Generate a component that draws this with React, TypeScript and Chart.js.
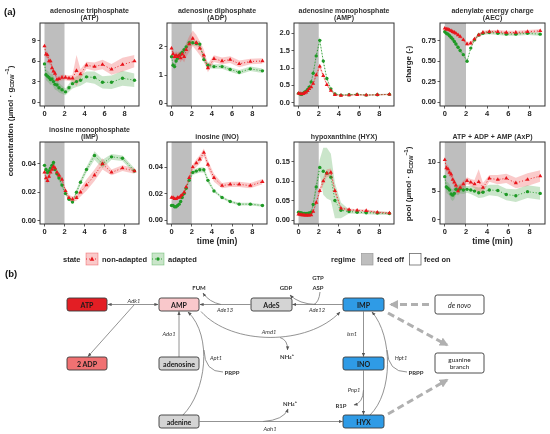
import React, { useEffect, useRef } from "react";
import { Chart, registerables } from "chart.js";

Chart.register(...registerables);

// ---------------- data ----------------
const TIME = [0, 0.15, 0.3, 0.45, 0.6, 0.75, 0.9, 1.05, 1.25, 1.45, 1.75, 2.1, 2.45, 2.8, 3.2, 3.6, 4.2, 5.0, 5.8, 6.7, 7.8, 9.0];
const X_TICKS = ["0", "2", "4", "6", "8"];
const FEED_OFF = [0, 2];

const ATP_NA = [8.2, 7.0, 6.9, 6.0, 6.0, 5.0, 4.5, 4.2, 3.3, 3.4, 3.6, 3.6, 3.5, 3.5, 4.6, 4.1, 5.4, 5.2, 5.5, 4.8, 5.5, 6.0];
const ATP_NA_SD = [0.5, 0.5, 0.5, 0.5, 0.5, 0.5, 0.4, 0.4, 0.4, 0.4, 0.4, 0.4, 0.4, 0.5, 2.3, 0.7, 0.5, 0.6, 0.7, 0.8, 1.0, 0.9];
const ATP_AD = [5.6, 4.0, 3.8, 3.6, 3.3, 3.4, 3.0, 2.6, 2.5, 2.1, 1.8, 1.5, 2.1, 2.7, 3.0, 3.2, 3.7, 3.6, 2.9, 2.9, 3.5, 3.2];
const ATP_AD_SD = [0.7, 0.8, 0.8, 0.8, 0.8, 0.8, 0.8, 0.8, 0.8, 0.7, 0.6, 0.5, 0.6, 0.7, 0.8, 0.8, 0.8, 0.9, 0.9, 1.0, 1.1, 1.0];
const ATP_TICKS = ["0", "3", "6", "9"];

const ADP_NA = [1.95, 1.75, 1.65, 1.7, 1.65, 1.7, 1.6, 1.75, 1.65, 1.9, 2.1, 2.3, 2.15, 1.95, 1.7, 1.25, 1.58, 1.5, 1.55, 1.4, 1.48, 1.5];
const ADP_NA_SD = [0.1, 0.15, 0.15, 0.15, 0.15, 0.15, 0.15, 0.2, 0.2, 0.25, 0.28, 0.28, 0.28, 0.25, 0.2, 0.15, 0.12, 0.12, 0.12, 0.12, 0.1, 0.1];
const ADP_AD = [1.65, 1.35, 1.3, 1.5, 1.6, 1.7, 1.75, 1.8, 1.9, 2.0, 2.15, 2.15, 2.12, 2.1, 1.55, 1.35, 1.3, 1.3, 1.2, 1.1, 1.22, 1.15];
const ADP_AD_SD = [0.08, 0.1, 0.1, 0.1, 0.1, 0.1, 0.1, 0.1, 0.1, 0.1, 0.1, 0.1, 0.1, 0.1, 0.1, 0.1, 0.08, 0.08, 0.08, 0.08, 0.08, 0.08];
const ADP_TICKS = ["0", "1", "2"];

const AMP_NA = [0.27, 0.26, 0.25, 0.26, 0.28, 0.3, 0.34, 0.4, 0.45, 0.55, 0.8, 1.05, 0.78, 0.52, 0.35, 0.23, 0.21, 0.22, 0.23, 0.22, 0.23, 0.24];
const AMP_NA_SD = [0.02, 0.02, 0.02, 0.02, 0.02, 0.02, 0.03, 0.03, 0.04, 0.05, 0.06, 0.08, 0.06, 0.04, 0.03, 0.02, 0.02, 0.02, 0.02, 0.02, 0.02, 0.02];
const AMP_AD = [0.27, 0.25, 0.24, 0.27, 0.3, 0.33, 0.38, 0.45, 0.6, 0.85, 1.35, 1.8, 1.2, 0.7, 0.4, 0.25, 0.22, 0.23, 0.24, 0.22, 0.23, 0.24];
const AMP_AD_SD = [0.02, 0.02, 0.02, 0.02, 0.02, 0.03, 0.03, 0.04, 0.05, 0.07, 0.09, 0.1, 0.08, 0.05, 0.03, 0.02, 0.02, 0.02, 0.02, 0.02, 0.02, 0.02];
const AMP_TICKS = ["0.0", "0.5", "1.0", "1.5", "2.0"];

const AEC_NA = [0.9, 0.89, 0.89, 0.88, 0.87, 0.86, 0.85, 0.84, 0.82, 0.8, 0.76, 0.71, 0.72, 0.77, 0.82, 0.85, 0.86, 0.86, 0.85, 0.85, 0.86, 0.87];
const AEC_NA_SD = [0.02, 0.02, 0.02, 0.02, 0.02, 0.02, 0.02, 0.02, 0.02, 0.025, 0.025, 0.025, 0.025, 0.02, 0.02, 0.02, 0.02, 0.02, 0.02, 0.02, 0.02, 0.02];
const AEC_AD = [0.86, 0.84, 0.83, 0.81, 0.79, 0.77, 0.74, 0.71, 0.67, 0.63, 0.58, 0.5, 0.66, 0.76, 0.82, 0.84, 0.85, 0.84, 0.83, 0.83, 0.84, 0.83];
const AEC_AD_SD = [0.03, 0.03, 0.03, 0.03, 0.03, 0.03, 0.03, 0.03, 0.03, 0.03, 0.02, 0.02, 0.02, 0.02, 0.02, 0.02, 0.02, 0.02, 0.02, 0.02, 0.02, 0.02];
const AEC_TICKS = ["0.00", "0.25", "0.50", "0.75"];

const IMP_NA = [0.034, 0.03, 0.028, 0.031, 0.034, 0.036, 0.038, 0.037, 0.034, 0.032, 0.029, 0.021, 0.016, 0.015, 0.016, 0.02, 0.025, 0.032, 0.04, 0.034, 0.037, 0.035];
const IMP_NA_SD = [0.002, 0.002, 0.002, 0.002, 0.002, 0.002, 0.002, 0.002, 0.002, 0.002, 0.002, 0.002, 0.002, 0.002, 0.002, 0.003, 0.004, 0.004, 0.004, 0.002, 0.002, 0.002];
const IMP_AD = [0.039, 0.036, 0.034, 0.035, 0.037, 0.039, 0.041, 0.036, 0.033, 0.03, 0.025, 0.019, 0.015, 0.013, 0.02, 0.027, 0.036, 0.046, 0.04, 0.045, 0.044, 0.035];
const IMP_AD_SD = [0.002, 0.002, 0.002, 0.002, 0.002, 0.002, 0.002, 0.002, 0.002, 0.002, 0.002, 0.001, 0.001, 0.001, 0.002, 0.002, 0.002, 0.003, 0.003, 0.002, 0.002, 0.002];
const IMP_TICKS = ["0.00", "0.02", "0.04"];

const INO_NA = [0.017, 0.017, 0.016, 0.016, 0.017, 0.017, 0.018, 0.019, 0.021, 0.025, 0.032, 0.04, 0.043, 0.046, 0.051, 0.042, 0.032, 0.026, 0.027, 0.027, 0.026, 0.029];
const INO_NA_SD = [0.001, 0.001, 0.001, 0.001, 0.001, 0.001, 0.001, 0.001, 0.001, 0.001, 0.002, 0.002, 0.003, 0.003, 0.003, 0.003, 0.003, 0.002, 0.002, 0.002, 0.002, 0.002];
const INO_AD = [0.011, 0.011, 0.01, 0.01, 0.011, 0.012, 0.014, 0.017, 0.02, 0.024, 0.03, 0.036, 0.037, 0.038, 0.038, 0.03, 0.022, 0.017, 0.014, 0.012, 0.012, 0.011];
const INO_AD_SD = [0.001, 0.001, 0.001, 0.001, 0.001, 0.001, 0.001, 0.001, 0.001, 0.001, 0.001, 0.002, 0.002, 0.002, 0.002, 0.002, 0.001, 0.001, 0.001, 0.001, 0.001, 0.001];
const INO_TICKS = ["0.00", "0.02", "0.04"];

const HYX_NA = [0.015, 0.014, 0.013, 0.013, 0.012, 0.012, 0.012, 0.012, 0.013, 0.022, 0.045, 0.075, 0.1, 0.12, 0.122, 0.075, 0.03, 0.027, 0.025, 0.024, 0.02, 0.018];
const HYX_NA_SD = [0.003, 0.003, 0.003, 0.003, 0.003, 0.003, 0.003, 0.003, 0.003, 0.004, 0.006, 0.008, 0.01, 0.01, 0.01, 0.008, 0.004, 0.003, 0.003, 0.003, 0.003, 0.003];
const HYX_AD = [0.02, 0.019, 0.018, 0.017, 0.017, 0.017, 0.017, 0.018, 0.02, 0.04, 0.085, 0.135, 0.125, 0.12, 0.11, 0.05, 0.025, 0.022, 0.02, 0.019, 0.018, 0.017];
const HYX_AD_SD = [0.004, 0.004, 0.004, 0.004, 0.004, 0.004, 0.004, 0.004, 0.005, 0.008, 0.015, 0.02, 0.06, 0.065, 0.06, 0.045, 0.02, 0.005, 0.004, 0.004, 0.004, 0.004];
const HYX_TICKS = ["0.00", "0.05", "0.10", "0.15"];

const AXP_NA = [10.4, 9.0, 8.8, 8.2, 7.9, 7.0, 6.5, 6.0, 5.0, 5.6, 6.2, 6.8, 6.5, 6.2, 6.6, 5.6, 7.2, 7.0, 7.2, 6.4, 7.0, 7.6];
const AXP_NA_SD = [0.8, 0.7, 0.7, 0.7, 0.7, 0.7, 0.7, 0.6, 0.6, 0.6, 0.6, 0.6, 0.6, 0.7, 2.2, 0.8, 0.6, 0.8, 0.8, 0.9, 1.1, 1.0];
const AXP_AD = [7.5, 5.7, 5.5, 5.2, 4.5, 4.3, 4.6, 5.3, 5.2, 5.4, 5.2, 5.3, 5.2, 5.0, 4.7, 4.8, 5.2, 5.1, 4.4, 4.2, 4.9, 4.6];
const AXP_AD_SD = [1.0, 1.0, 1.0, 1.0, 1.0, 1.0, 1.0, 0.9, 0.9, 0.8, 0.7, 0.6, 0.7, 0.8, 0.9, 0.9, 0.9, 1.0, 1.0, 1.1, 1.1, 1.1];
const AXP_TICKS = ["0", "5", "10"];

// ---------------- styles / layout ----------------
const FONT = "'Liberation Sans', Arial, sans-serif";
const DFONT = "Lato, 'Open Sans', sans-serif";
const RED = "#E8151B";
const GREEN = "#1F9A26";
const RED_FILL = "rgba(240, 80, 80, 0.3)";
const GREEN_FILL = "rgba(80, 170, 80, 0.3)";
const FEED_GRAY = "#BEBEBE";
const INK = "#262626";

const X_MIN = -0.45;
const X_MAX = 9.45;
const COL_LEFT = [40, 167, 294, 440];
const COL_W = [99, 100, 100, 105];
const ROW_TOP = [23, 142];
const ROW_H = [83, 82];
const YW = 26;
const TH = 16;
const XH = 12;
const XH_T = 23;

const PANELS = [
  { id: "atp", title: ["adenosine triphosphate", "(ATP)"], na: ATP_NA, naSd: ATP_NA_SD, ad: ATP_AD, adSd: ATP_AD_SD, ticks: ATP_TICKS, yMin: -0.58, yMax: 11.6, col: 0, row: 0, xTitle: false },
  { id: "adp", title: ["adenosine diphosphate", "(ADP)"], na: ADP_NA, naSd: ADP_NA_SD, ad: ADP_AD, adSd: ADP_AD_SD, ticks: ADP_TICKS, yMin: -0.1, yMax: 2.85, col: 1, row: 0, xTitle: false },
  { id: "amp", title: ["adenosine monophosphate", "(AMP)"], na: AMP_NA, naSd: AMP_NA_SD, ad: AMP_AD, adSd: AMP_AD_SD, ticks: AMP_TICKS, yMin: -0.095, yMax: 2.3, col: 2, row: 0, xTitle: false },
  { id: "aec", title: ["adenylate energy charge", "(AEC)"], na: AEC_NA, naSd: AEC_NA_SD, ad: AEC_AD, adSd: AEC_AD_SD, ticks: AEC_TICKS, yMin: -0.046, yMax: 0.966, col: 3, row: 0, xTitle: false },
  { id: "imp", title: ["inosine monophosphate", "(IMP)"], na: IMP_NA, naSd: IMP_NA_SD, ad: IMP_AD, adSd: IMP_AD_SD, ticks: IMP_TICKS, yMin: -0.0025, yMax: 0.0555, col: 0, row: 1, xTitle: false },
  { id: "ino", title: ["", "inosine (INO)"], na: INO_NA, naSd: INO_NA_SD, ad: INO_AD, adSd: INO_AD_SD, ticks: INO_TICKS, yMin: -0.003, yMax: 0.059, col: 1, row: 1, xTitle: true },
  { id: "hyx", title: ["", "hypoxanthine (HYX)"], na: HYX_NA, naSd: HYX_NA_SD, ad: HYX_AD, adSd: HYX_AD_SD, ticks: HYX_TICKS, yMin: -0.01, yMax: 0.2, col: 2, row: 1, xTitle: false },
  { id: "axp", title: ["", "ATP + ADP + AMP (AxP)"], na: AXP_NA, naSd: AXP_NA_SD, ad: AXP_AD, adSd: AXP_AD_SD, ticks: AXP_TICKS, yMin: -0.7, yMax: 13.5, col: 3, row: 1, xTitle: true },
];

const feedOffPlugin = {
  id: "feedOff",
  beforeDatasetsDraw(chart: any) {
    const { ctx, chartArea, scales } = chart;
    const x0 = scales.x.getPixelForValue(FEED_OFF[0]);
    const x1 = scales.x.getPixelForValue(FEED_OFF[1]);
    ctx.save();
    ctx.fillStyle = FEED_GRAY;
    ctx.fillRect(x0, chartArea.top, x1 - x0, chartArea.bottom - chartArea.top);
    ctx.restore();
  },
};

const framePlugin = {
  id: "frame",
  afterDatasetsDraw(chart: any) {
    const { ctx, chartArea } = chart;
    ctx.save();
    ctx.strokeStyle = "#333";
    ctx.lineWidth = 1;
    ctx.strokeRect(chartArea.left, chartArea.top, chartArea.right - chartArea.left, chartArea.bottom - chartArea.top);
    ctx.restore();
  },
};

function pts(vals: number[]) {
  return TIME.map((t, i) => ({ x: t, y: vals[i] }));
}
function bound(vals: number[], sd: number[], sign: number) {
  return TIME.map((t, i) => ({ x: t, y: vals[i] + sign * sd[i] }));
}

function Panel({ p }: { p: any }) {
  const ref = useRef<HTMLCanvasElement | null>(null);
  const xh = p.xTitle ? XH_T : XH;
  const left = COL_LEFT[p.col] - YW;
  const top = ROW_TOP[p.row] - TH;
  const width = YW * 2 + COL_W[p.col];
  const height = TH + ROW_H[p.row] + xh;

  useEffect(() => {
    if (!ref.current) return;
    const tickFont = { family: FONT, size: 7.5, weight: "bold" as const };
    const yVals = p.ticks.map((s: string) => parseFloat(s));
    const xVals = X_TICKS.map((s) => parseFloat(s));
    const grid = { display: true, drawOnChartArea: false, drawTicks: true, tickLength: 2.5, tickColor: "#333", tickWidth: 0.8 };
    const chart = new Chart(ref.current, {
      type: "line",
      data: {
        datasets: [
          { data: pts(p.na), borderColor: RED, borderWidth: 0.9, borderDash: [1, 2], pointStyle: "triangle", pointRadius: 2.4, pointBackgroundColor: RED, pointBorderColor: RED, pointBorderWidth: 0, fill: false, tension: 0, order: 1, yAxisID: "y" },
          { data: pts(p.ad), borderColor: GREEN, borderWidth: 0.9, borderDash: [1, 2], pointStyle: "circle", pointRadius: 1.7, pointBackgroundColor: GREEN, pointBorderColor: GREEN, pointBorderWidth: 0, fill: false, tension: 0, order: 2, yAxisID: "y" },
          { data: bound(p.na, p.naSd, 1), borderWidth: 0, pointRadius: 0, fill: "+1", backgroundColor: RED_FILL, order: 3, yAxisID: "y" },
          { data: bound(p.na, p.naSd, -1), borderWidth: 0, pointRadius: 0, fill: false, order: 3, yAxisID: "y" },
          { data: bound(p.ad, p.adSd, 1), borderWidth: 0, pointRadius: 0, fill: "+1", backgroundColor: GREEN_FILL, order: 4, yAxisID: "y" },
          { data: bound(p.ad, p.adSd, -1), borderWidth: 0, pointRadius: 0, fill: false, order: 4, yAxisID: "y" },
        ] as any,
      },
      options: {
        animation: false,
        responsive: false,
        events: [],
        layout: { padding: 0 },
        plugins: {
          legend: { display: false },
          tooltip: { enabled: false },
          title: {
            display: true,
            text: p.title,
            color: "#333",
            font: { family: FONT, size: 7, weight: "bold", lineHeight: 1.05 },
            padding: { top: 0, bottom: 1.3 },
          },
        },
        scales: {
          x: {
            type: "linear",
            min: X_MIN,
            max: X_MAX,
            afterBuildTicks: (s: any) => {
              s.ticks = xVals.map((v) => ({ value: v }));
            },
            afterFit: (s: any) => {
              s.height = xh;
            },
            ticks: { callback: (_v: any, i: number) => X_TICKS[i], font: tickFont, color: INK, padding: 1, maxRotation: 0, autoSkip: false },
            grid,
            border: { display: false },
            title: p.xTitle
              ? { display: true, text: "time (min)", color: INK, font: { family: FONT, size: 8.5, weight: "bold" }, padding: { top: 0, bottom: 0 } }
              : { display: false },
          },
          y: {
            type: "linear",
            position: "left",
            min: p.yMin,
            max: p.yMax,
            afterBuildTicks: (s: any) => {
              s.ticks = yVals.map((v: number) => ({ value: v }));
            },
            afterFit: (s: any) => {
              s.width = YW;
            },
            ticks: { callback: (_v: any, i: number) => p.ticks[i], font: tickFont, color: INK, padding: 1.5, autoSkip: false },
            grid,
            border: { display: false },
          },
          yR: {
            type: "linear",
            position: "right",
            display: true,
            ticks: { display: false },
            grid: { display: false },
            border: { display: false },
            afterFit: (s: any) => {
              s.width = YW;
            },
          },
        },
      } as any,
      plugins: [feedOffPlugin, framePlugin],
    });
    return () => chart.destroy();
  }, []);

  return (
    <div style={{ position: "absolute", left, top, width, height }}>
      <canvas ref={ref} width={width} height={height} />
    </div>
  );
}

// ---------------- pathway diagram (b) ----------------
const GRAY_BOX = "#D4D4D4";
const BLUE_BOX = "#2F9BE6";
const NODES = [
  { text: ["ATP"], x: 67, y: 298, w: 40, h: 13, fill: "#E31E24" },
  { text: ["AMP"], x: 159, y: 298, w: 40, h: 13, fill: "#F9C8CB" },
  { text: ["AdeS"], x: 251, y: 298, w: 41, h: 13, fill: GRAY_BOX },
  { text: ["IMP"], x: 343, y: 298, w: 41, h: 13, fill: BLUE_BOX },
  { text: ["2 ADP"], x: 67, y: 357, w: 40, h: 13, fill: "#F07172" },
  { text: ["adenosine"], x: 159, y: 357, w: 40, h: 13, fill: GRAY_BOX },
  { text: ["INO"], x: 343, y: 357, w: 41, h: 13, fill: BLUE_BOX },
  { text: ["adenine"], x: 159, y: 415, w: 40, h: 13, fill: GRAY_BOX },
  { text: ["HYX"], x: 343, y: 415, w: 41, h: 13, fill: BLUE_BOX },
  { text: ["de novo"], x: 435, y: 295, w: 49, h: 19, fill: "#FFFFFF", italic: true },
  { text: ["guanine", "branch"], x: 435, y: 353, w: 49, h: 20, fill: "#FFFFFF", light: true },
];

const EDGES = [
  { d: "M108,304.5 L158,304.5", start: true, end: true },
  { d: "M134,305 L88,356.5", end: true },
  { d: "M250.5,304.5 L200,304.5", end: true },
  { d: "M221,304.5 Q209,302 203,293", end: true },
  { d: "M179,357 L179,311.5", end: true },
  { d: "M183,415 C206,392 213,336 188,312", end: true },
  { d: "M223,372 Q204.5,372 204,350" },
  { d: "M199.5,421.5 L342.5,421.5", end: true },
  { d: "M263,421.5 Q284,420 288,409", end: true },
  { d: "M201,311.5 C232,346 308,346 340,312", end: true },
  { d: "M280,337.5 Q288,340 287.5,350", end: true },
  { d: "M342.5,304.5 L292.5,304.5", end: true },
  { d: "M320,292 Q319,302 314,304.5" },
  { d: "M316,304.5 Q299,304 290,295", end: true },
  { d: "M363.5,311.5 L363.5,356.5", end: true },
  { d: "M363.5,370.5 L363.5,414.5", end: true },
  { d: "M363.5,390 Q363,403 354,405", end: true },
  { d: "M370,415 C393,393 393,336 372,312", end: true },
  { d: "M407,372 Q388,372 387,350" },
];

const DASHED = ["M429,304.5 L391,304.5", "M388,313 L447,345", "M388,414 L447,380"];

const ENZYMES = [
  { t: "Adk1", x: 134, y: 300 },
  { t: "Ade13", x: 225, y: 309.5 },
  { t: "Ade12", x: 317, y: 309.5 },
  { t: "Ado1", x: 169, y: 333 },
  { t: "Apt1", x: 216, y: 357 },
  { t: "Amd1", x: 269, y: 331.5 },
  { t: "Isn1", x: 352, y: 333 },
  { t: "Hpt1", x: 401, y: 357 },
  { t: "Pnp1", x: 354, y: 389 },
  { t: "Aah1", x: 270, y: 428 },
];

const METABS = [
  { t: "FUM", x: 199, y: 287 },
  { t: "GDP", x: 286, y: 287 },
  { t: "GTP", x: 318, y: 277.5 },
  { t: "ASP", x: 318, y: 287 },
  { t: "PRPP", x: 232, y: 372 },
  { t: "PRPP", x: 416, y: 372 },
  { t: "R1P", x: 341, y: 405 },
];
const NH4 = [
  { x: 287, y: 356 },
  { x: 290, y: 403 },
];

function Overlay() {
  const legendY = 259;
  const lf = { fontFamily: FONT, fontSize: 7.5, fontWeight: "bold" as const, fill: INK };
  return (
    <svg width={550} height={434} style={{ position: "absolute", left: 0, top: 0, pointerEvents: "none" }}>
      <defs>
        <marker id="ah" viewBox="0 0 10 10" refX="9" refY="5" markerWidth="4" markerHeight="4" markerUnits="userSpaceOnUse" orient="auto-start-reverse">
          <path d="M0,1 L10,5 L0,9 z" fill="#555" />
        </marker>
        <marker id="ahd" viewBox="0 0 10 10" refX="8" refY="5" markerWidth="9" markerHeight="9" markerUnits="userSpaceOnUse" orient="auto">
          <path d="M0,0 L10,5 L0,10 z" fill="#B0B0B0" />
        </marker>
      </defs>

      {/* panel labels */}
      <text x={4} y={14.5} fontFamily={FONT} fontSize={9.5} fontWeight="bold" fill="#111">(a)</text>
      <text x={5} y={276.5} fontFamily={FONT} fontSize={9.5} fontWeight="bold" fill="#111">(b)</text>

      {/* y axis titles */}
      <text transform="translate(12.5 121) rotate(-90)" textAnchor="middle" fontFamily={FONT} fontSize={8} fontWeight="bold" fill={INK}>
        concentration (µmol · g<tspan fontSize={5.5} dy={1.8}>CDW</tspan><tspan fontSize={5.5} dy={-5}>−1</tspan><tspan dy={3.2}>)</tspan>
      </text>
      <text transform="translate(411 64) rotate(-90)" textAnchor="middle" fontFamily={FONT} fontSize={8} fontWeight="bold" fill={INK}>
        charge (-)
      </text>
      <text transform="translate(411 184) rotate(-90)" textAnchor="middle" fontFamily={FONT} fontSize={8} fontWeight="bold" fill={INK}>
        pool (µmol · g<tspan fontSize={5.5} dy={1.8}>CDW</tspan><tspan fontSize={5.5} dy={-5}>−1</tspan><tspan dy={3.2}>)</tspan>
      </text>

      {/* legend */}
      <g>
        <text x={63} y={legendY} dominantBaseline="central" {...lf}>state</text>
        <rect x={86} y={253} width={12} height={12} fill={RED_FILL} stroke="rgba(232,21,27,0.45)" strokeWidth={0.7} />
        <line x1={86} y1={259} x2={98} y2={259} stroke={RED} strokeWidth={0.9} strokeDasharray="1 2" />
        <polygon points="92,256.6 94.3,260.7 89.7,260.7" fill={RED} />
        <text x={102} y={legendY} dominantBaseline="central" {...lf}>non-adapted</text>
        <rect x={152} y={253} width={12} height={12} fill={GREEN_FILL} stroke="rgba(31,154,38,0.45)" strokeWidth={0.7} />
        <line x1={152} y1={259} x2={164} y2={259} stroke={GREEN} strokeWidth={0.9} strokeDasharray="1 2" />
        <circle cx={158} cy={259} r={1.7} fill={GREEN} />
        <text x={168} y={legendY} dominantBaseline="central" {...lf}>adapted</text>

        <text x={331} y={legendY} dominantBaseline="central" {...lf}>regime</text>
        <rect x={361.5} y={253.5} width={11.5} height={11.5} fill={FEED_GRAY} stroke="#9a9a9a" strokeWidth={0.7} />
        <text x={377} y={legendY} dominantBaseline="central" {...lf}>feed off</text>
        <rect x={409.5} y={253.5} width={11.5} height={11.5} fill="#FFFFFF" stroke="#555" strokeWidth={0.7} />
        <text x={424} y={legendY} dominantBaseline="central" {...lf}>feed on</text>
      </g>

      {/* diagram edges */}
      {EDGES.map((e, i) => (
        <path
          key={"e" + i}
          d={e.d}
          fill="none"
          stroke="#777"
          strokeWidth={0.8}
          markerEnd={e.end ? "url(#ah)" : undefined}
          markerStart={e.start ? "url(#ah)" : undefined}
        />
      ))}
      {DASHED.map((d, i) => (
        <path key={"d" + i} d={d} fill="none" stroke="#B0B0B0" strokeWidth={3} strokeDasharray="7 4" markerEnd="url(#ahd)" />
      ))}

      {/* diagram nodes */}
      {NODES.map((n, i) => (
        <g key={"n" + i}>
          <rect x={n.x} y={n.y} width={n.w} height={n.h} rx={2.2} ry={2.2} fill={n.fill} stroke="#3a3a3a" strokeWidth={0.9} />
          {n.text.map((t, j) => (
            <text
              key={j}
              x={n.x + n.w / 2}
              y={n.y + n.h / 2 + (j - (n.text.length - 1) / 2) * 7.5}
              textAnchor="middle"
              dominantBaseline="central"
              fontFamily={DFONT}
              fontSize={n.light ? 6.5 : 7}
              fontWeight={n.italic || n.light ? "normal" : "bold"}
              fontStyle={n.italic ? "italic" : "normal"}
              fill="#1a1a1a"
            >
              {t}
            </text>
          ))}
        </g>
      ))}

      {/* labels */}
      {ENZYMES.map((l, i) => (
        <text key={"z" + i} x={l.x} y={l.y} textAnchor="middle" dominantBaseline="central" fontFamily={DFONT} fontSize={5.8} fontStyle="italic" fill="#333">
          {l.t}
        </text>
      ))}
      {METABS.map((l, i) => (
        <text key={"m" + i} x={l.x} y={l.y} textAnchor="middle" dominantBaseline="central" fontFamily={DFONT} fontSize={6} fontWeight="bold" fill="#333">
          {l.t}
        </text>
      ))}
      {NH4.map((l, i) => (
        <text key={"h" + i} x={l.x} y={l.y} textAnchor="middle" dominantBaseline="central" fontFamily={DFONT} fontSize={6} fontWeight="bold" fill="#333">
          NH<tspan fontSize={4} dy={1.2}>4</tspan><tspan fontSize={4} dy={-3.4}>+</tspan>
        </text>
      ))}
    </svg>
  );
}

export default function App() {
  useEffect(() => {
    document.body.style.margin = "0";
  }, []);
  return (
    <div style={{ position: "relative", width: 550, height: 434, overflow: "hidden", background: "#fff" }}>
      <style>{"body{margin:0}"}</style>
      {PANELS.map((p) => (
        <Panel key={p.id} p={p} />
      ))}
      <Overlay />
    </div>
  );
}
